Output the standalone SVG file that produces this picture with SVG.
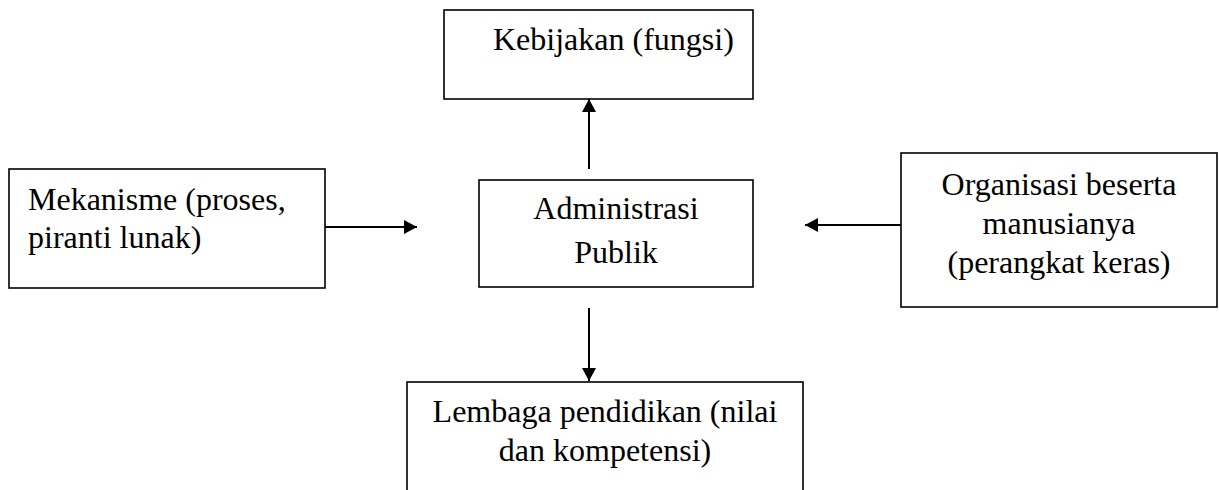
<svg xmlns="http://www.w3.org/2000/svg" width="1219" height="490" viewBox="0 0 1219 490">
<style>
.box{fill:#fff;stroke:#000;stroke-width:1.6}
.t{font-family:"Liberation Serif","Times New Roman",serif;font-size:32px;fill:#000}
.c{text-anchor:middle}
.con{stroke:#000;stroke-width:2;fill:none;marker-end:url(#ah)}
</style>
<defs>
<marker id="ah" markerUnits="userSpaceOnUse" markerWidth="16" markerHeight="16" refX="13" refY="7" orient="auto">
<path d="M0,0 L13,7 L0,14 Z" fill="#000"/>
</marker>
</defs>
<rect width="1219" height="490" fill="#fff"/>
<g id="kebijakan">
<rect class="box" x="444" y="10" width="309" height="89"/>
<text class="t" x="493" y="50">Kebijakan (fungsi)</text>
</g>
<g id="mekanisme">
<rect class="box" x="9" y="169" width="316" height="119"/>
<text class="t" x="28" y="210">Mekanisme (proses,</text>
<text class="t" x="28" y="248">piranti lunak)</text>
</g>
<g id="administrasi">
<rect class="box" x="479" y="180" width="274" height="107"/>
<text class="t c" x="616" y="219">Administrasi</text>
<text class="t c" x="616" y="263">Publik</text>
</g>
<g id="organisasi">
<rect class="box" x="901" y="153" width="316" height="154"/>
<text class="t c" x="1059" y="195">Organisasi beserta</text>
<text class="t c" x="1059" y="234">manusianya</text>
<text class="t c" x="1059" y="273">(perangkat keras)</text>
</g>
<g id="lembaga">
<rect class="box" x="407" y="382" width="396" height="120"/>
<text class="t c" x="605" y="422">Lembaga pendidikan (nilai</text>
<text class="t c" x="605" y="461">dan kompetensi)</text>
</g>
<g id="connectors">
<line class="con" x1="589" y1="169" x2="589" y2="99"/>
<line class="con" x1="325" y1="227" x2="417" y2="227"/>
<line class="con" x1="901" y1="225" x2="805" y2="225"/>
<line class="con" x1="589" y1="308" x2="589" y2="381"/>
</g>
</svg>
